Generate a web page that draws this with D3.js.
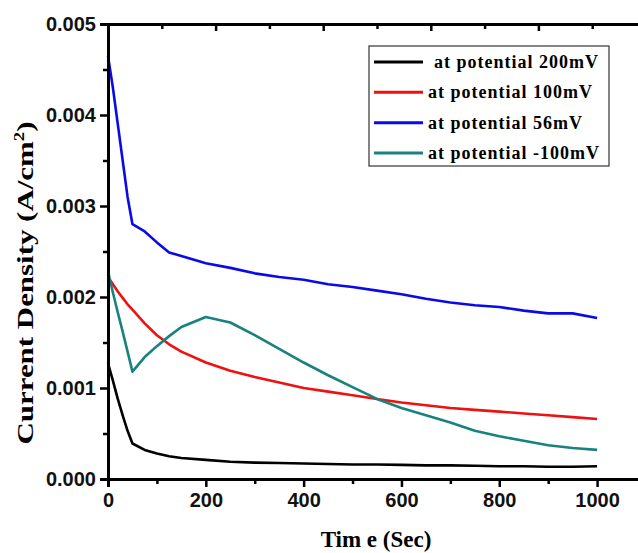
<!DOCTYPE html>
<html>
<head>
  <meta charset="utf-8">
  <title>Current Density vs Time</title>
  <script src="https://d3js.org/d3.v7.min.js"></script>
  <style>
    body { margin: 0; background: #fff; }
    .tick-label { font-family: "Liberation Sans", Arial, sans-serif; font-weight: bold; font-size: 20px; }
    .axis-title { font-family: "Liberation Serif", "Times New Roman", serif; font-weight: bold; font-size: 23px; }
    .legend-text { font-family: "Liberation Serif", "Times New Roman", serif; font-weight: bold; font-size: 18px; letter-spacing: 1px; }
  </style>
</head>
<body>
  <div id="chart"></div>

  <script>
    const time = [0, 10, 20, 30, 40, 50, 75, 100, 125, 150, 200, 250, 300, 350, 400, 450, 500, 550, 600, 650, 700, 750, 800, 850, 900, 950, 1000];
    const mv200 = [0.00127, 0.00108, 0.00088, 0.00070, 0.00053, 0.00039, 0.00032, 0.00028, 0.00025, 0.00023, 0.00021, 0.00019, 0.00018, 0.000175, 0.00017, 0.000165, 0.00016, 0.00016, 0.000155, 0.00015, 0.00015, 0.000145, 0.00014, 0.00014, 0.000135, 0.000135, 0.00014];
    const mv100 = [0.00222, 0.00214, 0.00206, 0.00199, 0.00192, 0.00186, 0.00171, 0.00158, 0.00148, 0.0014, 0.00128, 0.00119, 0.00112, 0.00106, 0.001, 0.00096, 0.00092, 0.00088, 0.00084, 0.00081, 0.00078, 0.00076, 0.00074, 0.00072, 0.0007, 0.00068, 0.00066];
    const mv56 = [0.00465, 0.0043, 0.0039, 0.0035, 0.0031, 0.0028, 0.00272, 0.0026, 0.00249, 0.00245, 0.00237, 0.00232, 0.00226, 0.00222, 0.00219, 0.00214, 0.00211, 0.00207, 0.00203, 0.00198, 0.00194, 0.00191, 0.00189, 0.00185, 0.00182, 0.00182, 0.00177];
    const mvNeg100 = [0.00228, 0.00205, 0.00183, 0.00162, 0.0014, 0.00118, 0.00134, 0.00146, 0.00157, 0.00167, 0.00178, 0.00172, 0.00158, 0.00143, 0.00128, 0.00114, 0.00101, 0.00088, 0.00078, 0.0007, 0.00062, 0.00053, 0.00047, 0.00042, 0.00037, 0.00034, 0.00032];

    const seriesNames = ["at potential 200mV", "at potential 100mV", "at potential 56mV", "at potential -100mV"];
    const seriesData = [mv200, mv100, mv56, mvNeg100];
    const colors = ["#000000", "#ee1111", "#0a0ae6", "#17827e"];

    const xTicks = [0, 200, 400, 600, 800, 1000];
    const yTicks = [0, 0.001, 0.002, 0.003, 0.004, 0.005];

    const W = 638, H = 553;
    const plotLeft = 108, plotTop = 24, plotBottom = 479, plotRight = 646;

    const svg = d3.select("#chart")
      .append("svg")
      .attr("width", W)
      .attr("height", H);

    const x = d3.scaleLinear().domain([0, 1100]).range([plotLeft, plotRight]);
    const xTop = d3.scaleLinear().domain([0, 1000]).range([plotLeft, plotRight]);
    const y = d3.scaleLinear().domain([0, 0.005]).range([plotBottom, plotTop]);

    const line = d3.line()
      .x((d, i) => x(time[i]))
      .y(d => y(d));

    seriesData.forEach((s, k) => {
      svg.append("path")
        .datum(s)
        .attr("fill", "none")
        .attr("stroke", colors[k])
        .attr("stroke-width", 2.6)
        .attr("stroke-linejoin", "round")
        .attr("d", line);
    });

    // bottom axis
    const xAxis = svg.append("g")
      .attr("transform", `translate(0,${plotBottom})`)
      .call(d3.axisBottom(x).tickValues(xTicks).tickSize(8).tickPadding(6).tickFormat(d3.format("d")));
    xAxis.select(".domain").attr("stroke-width", 3);
    xAxis.selectAll(".tick line").attr("stroke-width", 2.5);
    xAxis.selectAll(".tick text").attr("class", "tick-label").attr("fill", "#111");

    svg.append("g")
      .attr("transform", `translate(0,${plotBottom})`)
      .call(d3.axisBottom(x).tickValues([100, 300, 500, 700, 900]).tickSize(5).tickFormat(""))
      .call(g => g.select(".domain").remove())
      .selectAll("line").attr("stroke-width", 2.5);

    // left axis
    const yAxis = svg.append("g")
      .attr("transform", `translate(${plotLeft},0)`)
      .call(d3.axisLeft(y).tickValues(yTicks).tickSize(8).tickPadding(4).tickFormat(d3.format(".3f")));
    yAxis.select(".domain").attr("stroke-width", 3);
    yAxis.selectAll(".tick line").attr("stroke-width", 2.5);
    yAxis.selectAll(".tick text").attr("class", "tick-label").attr("fill", "#111");

    svg.append("g")
      .attr("transform", `translate(${plotLeft},0)`)
      .call(d3.axisLeft(y).tickValues([0.0005, 0.0015, 0.0025, 0.0035, 0.0045]).tickSize(5).tickFormat(""))
      .call(g => g.select(".domain").remove())
      .selectAll("line").attr("stroke-width", 2.5);

    // top axis, ticks pointing inward
    const topAxis = svg.append("g")
      .attr("transform", `translate(0,${plotTop})`)
      .call(d3.axisBottom(xTop).tickValues([0, 200, 400, 600, 800, 1000]).tickSize(7).tickFormat(""));
    topAxis.select(".domain").attr("stroke-width", 3);
    topAxis.selectAll("line").attr("stroke-width", 2.5);
    svg.append("g")
      .attr("transform", `translate(0,${plotTop})`)
      .call(d3.axisBottom(xTop).tickValues([100, 300, 500, 700, 900]).tickSize(5).tickFormat(""))
      .call(g => g.select(".domain").remove())
      .selectAll("line").attr("stroke-width", 2.5);

    // axis titles
    svg.append("text")
      .attr("class", "axis-title")
      .attr("x", 376)
      .attr("y", 547)
      .attr("text-anchor", "middle")
      .text("Tim e (Sec)");

    const yTitle = svg.append("text")
      .attr("class", "axis-title")
      .attr("transform", "translate(33,283) rotate(-90)")
      .attr("text-anchor", "middle")
      .attr("textLength", 323)
      .attr("lengthAdjust", "spacingAndGlyphs");
    yTitle.append("tspan").text("Current Density (A/cm");
    yTitle.append("tspan").attr("font-size", 14).attr("dy", -9).text("2");
    yTitle.append("tspan").attr("dy", 9).text(")");

    // legend
    const legend = svg.append("g");
    legend.append("rect")
      .attr("x", 369).attr("y", 46)
      .attr("width", 240).attr("height", 120)
      .attr("fill", "#fff")
      .attr("stroke", "#333")
      .attr("stroke-width", 1.2);

    const legendY = d3.scalePoint().domain(seriesNames).range([62, 153]);
    seriesNames.forEach((name, k) => {
      legend.append("line")
        .attr("x1", 374).attr("x2", 423)
        .attr("y1", legendY(name)).attr("y2", legendY(name))
        .attr("stroke", colors[k])
        .attr("stroke-width", 3);
      legend.append("text")
        .attr("class", "legend-text")
        .attr("x", k === 0 ? 434 : 428)
        .attr("y", legendY(name) + 6)
        .text(name);
    });
  </script>
</body>
</html>
